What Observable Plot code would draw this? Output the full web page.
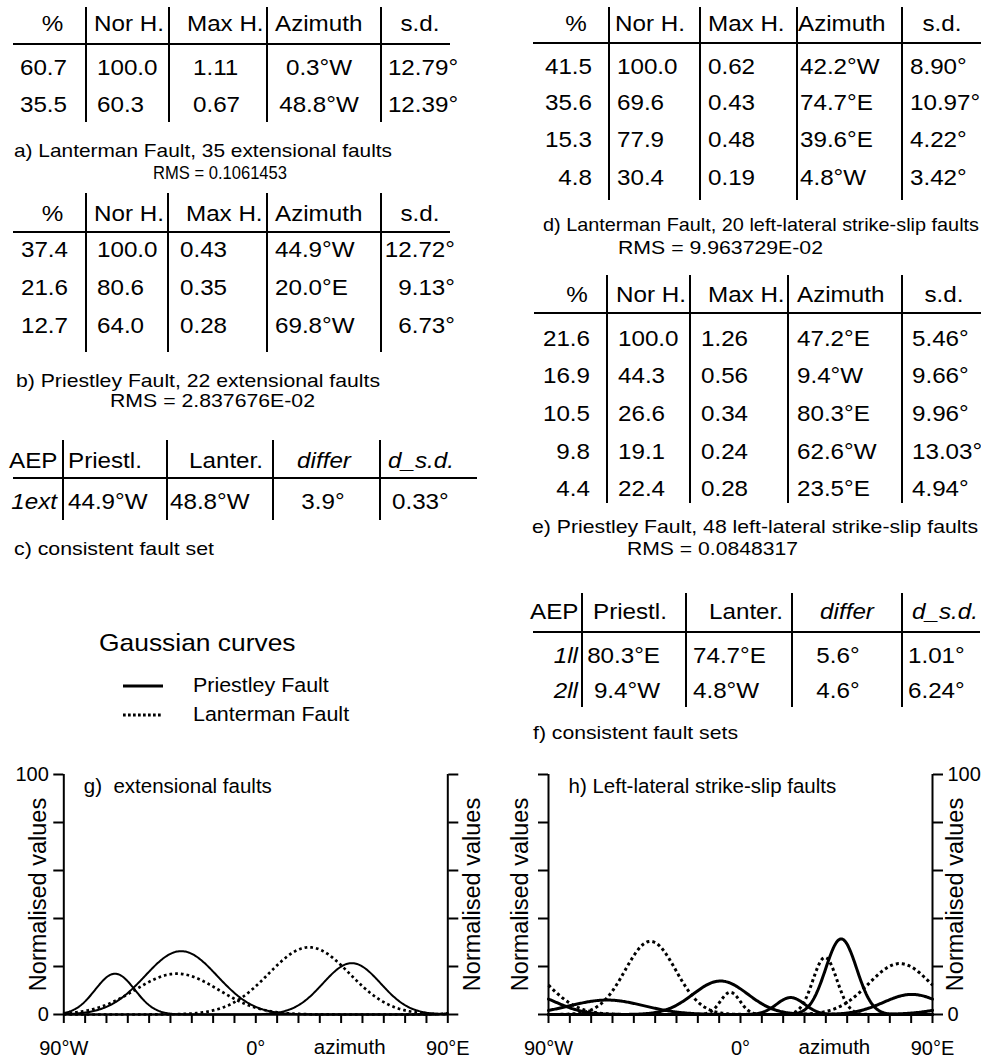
<!DOCTYPE html>
<html><head><meta charset="utf-8">
<script src="https://cdn.jsdelivr.net/npm/d3@7"></script>
<script src="https://cdn.jsdelivr.net/npm/@observablehq/plot@0.6"></script>
<style>
html,body{margin:0;padding:0;background:#fff;overflow:hidden;}
#page{position:relative;width:981px;height:1060px;font-family:"Liberation Sans",Arial,sans-serif;}
#page svg{position:absolute;}
</style></head><body><div id="page"></div>
<script>
// ---------------- data ----------------
const headers = ["%", "Nor H.", "Max H.", "Azimuth", "s.d."];
const compareHeaders = ["AEP", "Priestl.", "Lanter.", "differ", "d_s.d."];
// a) Lanterman Fault, extensional
const aPct = [60.7, 35.5];
const aNorH = [100.0, 60.3];
const aMaxH = [1.11, 0.67];
const aAzimuth = [-0.3, -48.8];
const aSd = [12.79, 12.39];
// b) Priestley Fault, extensional
const bPct = [37.4, 21.6, 12.7];
const bNorH = [100.0, 80.6, 64.0];
const bMaxH = [0.43, 0.35, 0.28];
const bAzimuth = [-44.9, 20.0, -69.8];
const bSd = [12.72, 9.13, 6.73];
// c) consistent fault set
const cSets = ["1ext"];
const cPriestley = [-44.9];
const cLanterman = [-48.8];
const cDiffer = [3.9];
const cDsd = [0.33];
// d) Lanterman Fault, left-lateral strike-slip
const dPct = [41.5, 35.6, 15.3, 4.8];
const dNorH = [100.0, 69.6, 77.9, 30.4];
const dMaxH = [0.62, 0.43, 0.48, 0.19];
const dAzimuth = [-42.2, 74.7, 39.6, -4.8];
const dSd = [8.90, 10.97, 4.22, 3.42];
// e) Priestley Fault, left-lateral strike-slip
const ePct = [21.6, 16.9, 10.5, 9.8, 4.4];
const eNorH = [100.0, 44.3, 26.6, 19.1, 22.4];
const eMaxH = [1.26, 0.56, 0.34, 0.24, 0.28];
const eAzimuth = [47.2, -9.4, 80.3, -62.6, 23.5];
const eSd = [5.46, 9.66, 9.96, 13.03, 4.94];
// f) consistent fault sets
const fSets = ["1ll", "2ll"];
const fPriestley = [80.3, -9.4];
const fLanterman = [74.7, -4.8];
const fDiffer = [5.6, 4.6];
const fDsd = [1.01, 6.24];

const captionA = ["a) Lanterman Fault, 35 extensional faults", "RMS = 0.1061453"];
const captionB = ["b) Priestley Fault, 22 extensional faults", "RMS = 2.837676E-02"];
const captionC = ["c) consistent fault set"];
const captionD = ["d) Lanterman Fault, 20 left-lateral strike-slip faults", "RMS = 9.963729E-02"];
const captionE = ["e) Priestley Fault, 48 left-lateral strike-slip faults", "RMS = 0.0848317"];
const captionF = ["f) consistent fault sets"];

const legendTitle = "Gaussian curves";
const faults = ["Priestley Fault", "Lanterman Fault"];

// g) curves: peak azimuth, peak height, width
const gPriestleyPeakAz = [-66, -35, 45];
const gPriestleyPeak = [17, 26.4, 21.4];
const gPriestleyWidth = [9.3, 17, 13.5];
const gLantermanPeakAz = [-37, 25];
const gLantermanPeak = [17, 28];
const gLantermanWidth = [19.5, 19];

// h) curves from tables d and e (heights and widths read against the picture)
const hPriestleyHeightPerNorH = 0.315;
const hLantermanHeightPerNorH = 0.305;
const hWidthPerSd = 1.33;

const xTicks = [-90,-80,-70,-60,-50,-40,-30,-20,-10,0,10,20,30,40,50,60,70,80,90];
const xTickLabels = {"-90": "90°W", "0": "0°", "90": "90°E"};
const yTicks = [0, 20, 40, 60, 80, 100];
const yTickLabels = [0, 100];
const panelG = "g)\u00a0\u00a0extensional faults";
const panelH = "h) Left-lateral strike-slip faults";
const yLabel = "Normalised values";
const xLabel = "azimuth";

// ---------------- formatting ----------------
const fmt1 = d => d.toFixed(1);
const fmt2 = d => d.toFixed(2);
const fmtAz = d => `${Math.abs(d).toFixed(1)}°${d < 0 ? "W" : "E"}`;
const deg1 = d => `${d.toFixed(1)}°`;
const deg2 = d => `${d.toFixed(2)}°`;
const compRows = (pct, nor, mx, az, sd) => pct.map((p, i) => [fmt1(p), fmt1(nor[i]), fmt2(mx[i]), fmtAz(az[i]), deg2(sd[i])]);
const cmpRows = (sets, pr, la, di, ds) => sets.map((s, i) => [s, fmtAz(pr[i]), fmtAz(la[i]), deg1(di[i]), deg2(ds[i])]);

// ---------------- overlay (tables, captions, legend) ----------------
const page = d3.select("#page");
const ov = page.append("svg").attr("width", 981).attr("height", 1060)
  .style("left", "0px").style("top", "0px")
  .style("font-family", "'Liberation Sans', Arial, sans-serif");
const SX = 1.1;
function txt(x, y, s, anchor, size, italic, fitWidth) {
  const t = ov.append("text")
    .attr("transform", fitWidth ? `translate(${x},${y})` : `translate(${x},${y}) scale(${SX},1)`)
    .attr("dy", "0.36em")
    .attr("text-anchor", anchor)
    .style("font-size", size + "px")
    .style("font-style", italic ? "italic" : "normal")
    .text(s);
  if (fitWidth) t.attr("textLength", fitWidth).attr("lengthAdjust", "spacingAndGlyphs");
}
function seg(x1, y1, x2, y2, w = 2) {
  ov.append("line").attr("x1", x1).attr("y1", y1).attr("x2", x2).attr("y2", y2)
    .attr("stroke", "#000").attr("stroke-width", w);
}
function drawTable(L, head, rows) {
  L.vx.forEach(x => seg(x, L.vy[0], x, L.vy[1]));
  seg(L.hx[0], L.hy, L.hx[1], L.hy);
  head.forEach((h, j) => txt(L.head[j][1], L.headY, h, L.head[j][0], 22, L.headIt && L.headIt[j]));
  rows.forEach((r, i) => r.forEach((c, j) => txt(L.body[j][1], L.rowY[i], c, L.body[j][0], 22, L.bodyIt && L.bodyIt[j])));
}
const E = "end", S = "start", M = "middle";
drawTable({vx: [86, 169, 267, 381], vy: [7, 122], hy: 44, hx: [13, 450], headY: 23.5, rowY: [67.5, 104.5],
  head: [[M, 52.5], [S, 94], [S, 187], [S, 275], [M, 420]],
  body: [[E, 67], [S, 97], [S, 193], [M, 319], [M, 423]]}, headers, compRows(aPct, aNorH, aMaxH, aAzimuth, aSd));
drawTable({vx: [86, 168, 267, 381], vy: [193, 352], hy: 232, hx: [13, 450], headY: 213, rowY: [249.5, 287.5, 325.5],
  head: [[M, 52.5], [S, 94], [S, 186], [S, 275], [M, 420]],
  body: [[E, 68], [S, 97], [S, 180], [S, 275], [E, 455]]}, headers, compRows(bPct, bNorH, bMaxH, bAzimuth, bSd));
drawTable({vx: [63, 167, 273, 380], vy: [440, 520], hy: 478, hx: [13, 477], headY: 460, rowY: [501.5],
  head: [[S, 9], [S, 68], [E, 263], [M, 324], [S, 388]], headIt: [0, 0, 0, 1, 1],
  body: [[E, 57], [S, 68], [S, 170], [M, 323], [S, 392]], bodyIt: [1, 0, 0, 0, 0]}, compareHeaders, cmpRows(cSets, cPriestley, cLanterman, cDiffer, cDsd));
drawTable({vx: [609, 700, 797, 902], vy: [7, 200], hy: 43, hx: [533, 981], headY: 23.5, rowY: [66, 102.5, 139.5, 177.5],
  head: [[M, 576], [S, 615], [S, 708], [S, 798], [M, 942]],
  body: [[E, 592], [S, 617], [S, 708], [S, 800], [S, 910]]}, headers, compRows(dPct, dNorH, dMaxH, dAzimuth, dSd));
drawTable({vx: [607, 690, 788, 902], vy: [275, 503], hy: 313, hx: [534, 981], headY: 294, rowY: [338.5, 375, 413.5, 451, 488.5],
  head: [[M, 577], [S, 616], [S, 708], [S, 797], [M, 944]],
  body: [[E, 590], [S, 618], [S, 701], [S, 797], [S, 912]]}, headers, compRows(ePct, eNorH, eMaxH, eAzimuth, eSd));
drawTable({vx: [582, 686, 792, 902], vy: [593, 707], hy: 632, hx: [533, 980], headY: 611.5, rowY: [655, 690],
  head: [[S, 530], [S, 593], [E, 783], [M, 847], [S, 912]], headIt: [0, 0, 0, 1, 1],
  body: [[E, 578], [E, 660], [S, 693], [M, 838], [S, 908]], bodyIt: [1, 0, 0, 0, 0]}, compareHeaders, cmpRows(fSets, fPriestley, fLanterman, fDiffer, fDsd));

const capSize = 19;
txt(14, 150, captionA[0], S, capSize, false, 378); txt(153, 172.5, captionA[1], S, capSize, false, 134);
txt(16, 380.5, captionB[0], S, capSize, false, 364); txt(110, 400.5, captionB[1], S, capSize, false, 205);
txt(14, 548, captionC[0], S, capSize, false, 200);
txt(543, 224.5, captionD[0], S, capSize, false, 436); txt(618, 247, captionD[1], S, capSize, false, 205);
txt(532, 526.5, captionE[0], S, capSize, false, 446); txt(627, 548, captionE[1], S, capSize, false, 171);
txt(533, 732.5, captionF[0], S, capSize, false, 205);

// legend
txt(99, 642.5, legendTitle, S, 24);
seg(123, 686, 163, 686, 3);
ov.append("line").attr("x1", 123).attr("y1", 715).attr("x2", 163).attr("y2", 715)
  .attr("stroke", "#000").attr("stroke-width", 3).attr("stroke-dasharray", "2.7,2.3");
txt(193, 684.5, faults[0], S, 19.5);
txt(193, 713.5, faults[1], S, 19.5);

// ---------------- Gaussian curves ----------------
const azGrid = d3.range(-90, 90.01, 0.5);
function curves(centers, peaks, widths, name) {
  const rows = [];
  centers.forEach((c, i) => {
    for (const az of azGrid) {
      let v = 0;
      for (const k of [-180, 0, 180]) v += Math.exp(-0.5 * ((az - c + k) / widths[i]) ** 2);
      rows.push({az, v: peaks[i] * v, comp: name + i});
    }
  });
  return rows;
}
const gP = curves(gPriestleyPeakAz, gPriestleyPeak, gPriestleyWidth, "P");
const gL = curves(gLantermanPeakAz, gLantermanPeak, gLantermanWidth, "L");
const hP = curves(eAzimuth, eNorH.map(d => d * hPriestleyHeightPerNorH), eSd.map(d => d * hWidthPerSd), "P");
const hL = curves(dAzimuth, dNorH.map(d => d * hLantermanHeightPerNorH), dSd.map(d => d * hWidthPerSd), "L");

function panel(opts) {
  const {P, L, title, labelsRight, mLeft, mRight, solidW, dotW, dash, leftDx, rightDx} = opts;
  const fmtY = d => yTickLabels.includes(d) ? String(d) : "";
  return Plot.plot({
    width: opts.width, height: 300,
    marginLeft: mLeft, marginRight: mRight, marginTop: 14, marginBottom: 46,
    style: {fontFamily: "'Liberation Sans', Arial, sans-serif", fontSize: "20px", background: "transparent", overflow: "visible"},
    x: {domain: [-90, 90]},
    y: {domain: [0, 100]},
    marks: [
      Plot.ruleX([-90, 90], {stroke: "#000", strokeWidth: 2}),
      Plot.ruleY([0], {stroke: "#000", strokeWidth: 2}),
      Plot.axisX({ticks: xTicks, tickSize: 9, tickPadding: 17, strokeWidth: 2, label: null,
        tickFormat: d => xTickLabels[String(d)] || ""}),
      Plot.axisY({anchor: "left", ticks: yTicks, tickSize: 10, tickPadding: 5, strokeWidth: 2, label: null,
        tickFormat: labelsRight ? () => "" : fmtY}),
      Plot.axisY({anchor: "right", ticks: yTicks, tickSize: 10, tickPadding: 5, strokeWidth: 2, label: null,
        tickFormat: labelsRight ? fmtY : () => ""}),
      Plot.line(P, {x: "az", y: "v", z: "comp", stroke: "#000", strokeWidth: solidW}),
      Plot.line(L, {x: "az", y: "v", z: "comp", stroke: "#000", strokeWidth: dotW, strokeDasharray: dash, strokeLinecap: "butt"}),
      Plot.text([title], {frameAnchor: "top-left", textAnchor: "start", lineAnchor: "middle", dx: 20, dy: 11.5, fontSize: 20.5}),
      Plot.text([{az: 44, v: 0}], {x: "az", y: "v", text: () => xLabel, dy: 33, lineAnchor: "middle", fontSize: 20.5}),
      Plot.text([yLabel], {frameAnchor: "left", textAnchor: "middle", lineAnchor: "middle", rotate: -90, dx: leftDx, fontSize: 23.5}),
      Plot.text([yLabel], {frameAnchor: "right", textAnchor: "middle", lineAnchor: "middle", rotate: -90, dx: rightDx, fontSize: 23.5})
    ]
  });
}
const g = panel({P: gP, L: gL, title: panelG, labelsRight: false, width: 490, mLeft: 63.3, mRight: 42.7,
  solidW: 2, dotW: 2.7, dash: "2.7,3", leftDx: -25, rightDx: 25});
g.style.left = "0px"; g.style.top = "760px";
page.node().appendChild(g);
const h = panel({P: hP, L: hL, title: panelH, labelsRight: true, width: 491, mLeft: 58, mRight: 49,
  solidW: 3, dotW: 3, dash: "3,3", leftDx: -28, rightDx: 23});
h.style.left = "490px"; h.style.top = "760px";
page.node().appendChild(h);
</script>
</body></html>
